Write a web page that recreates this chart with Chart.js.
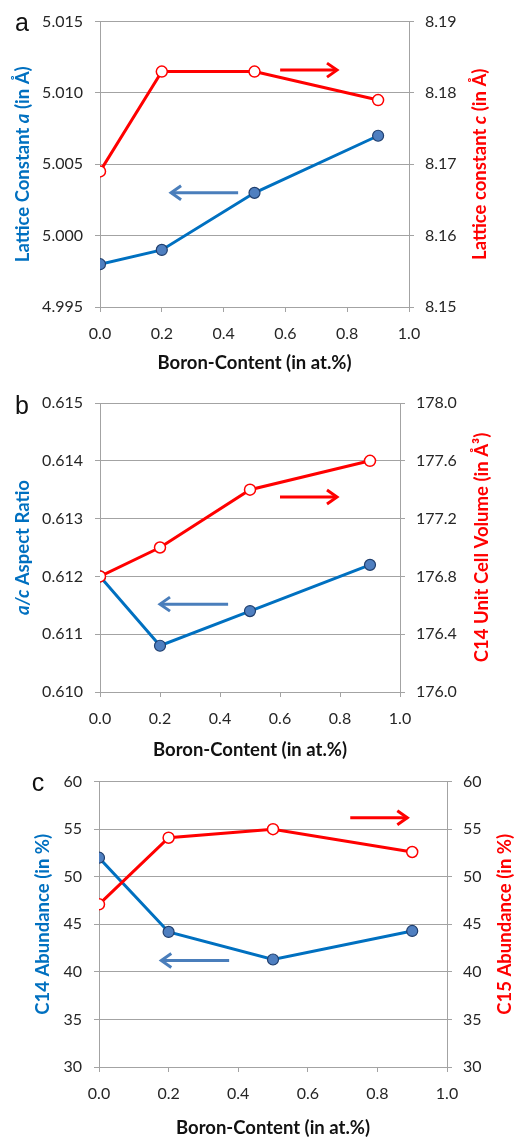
<!DOCTYPE html>
<html>
<head>
<meta charset="utf-8">
<script src="https://cdn.jsdelivr.net/npm/chart.js@4.4.1/dist/chart.umd.min.js"></script>
<style>
  body { margin: 0; background: #fff; }
  #wrap { position: relative; width: 515px; height: 1137px; }
  canvas { position: absolute; left: 0; }
</style>
</head>
<body>
<div id="wrap">
  <canvas id="panelA" width="515" height="380" style="top:0"></canvas>
  <canvas id="panelB" width="515" height="380" style="top:380px"></canvas>
  <canvas id="panelC" width="515" height="377" style="top:760px"></canvas>
</div>
<script>
// boron content (at.%) shared by all panels
const boron = [0, 0.2, 0.5, 0.9];

// panel a
const latticeA = [4.998, 4.999, 5.003, 5.007];
const latticeC = [8.169, 8.183, 8.183, 8.179];
// panel b
const aspectRatio = [0.612, 0.6108, 0.6114, 0.6122];
const cellVolume = [176.8, 177.0, 177.4, 177.6];
// panel c
const c14Abundance = [52.0, 44.2, 41.3, 44.3];
const c15Abundance = [47.1, 54.1, 55.0, 52.6];

const BLUE = '#0070c0';
const RED = '#ff0000';
const GRID = '#a3a3a3';
const TICK_COLOR = '#262626';

Chart.defaults.font.family = 'Lato, "Open Sans", sans-serif';

function pts(ys) {
  return boron.map((x, i) => ({ x, y: ys[i] }));
}

// draws a string made of styled pieces, centred on (cx, cy)
function drawRich(ctx, segs, cx, cy, rot, size, color) {
  ctx.save();
  ctx.translate(cx, cy);
  ctx.rotate(rot);
  ctx.fillStyle = color;
  ctx.textBaseline = 'middle';
  ctx.textAlign = 'left';
  const fontOf = s => `${s.italic ? 'italic ' : ''}bold ${size}px Lato, sans-serif`;
  let total = 0;
  segs.forEach(s => { ctx.font = fontOf(s); total += ctx.measureText(s.t).width; });
  let x = -total / 2;
  segs.forEach(s => {
    ctx.font = fontOf(s);
    ctx.fillText(s.t, x, 0);
    x += ctx.measureText(s.t).width;
  });
  ctx.restore();
}

const annotate = {
  id: 'annotate',
  afterDatasetsDraw(chart, args, opts) {
    const { ctx, scales } = chart;
    opts.arrows.forEach(a => {
      const ys = scales[a.axis];
      const x1 = scales.x.getPixelForValue(a.from);
      const x2 = scales.x.getPixelForValue(a.to);
      const y = ys.getPixelForValue(a.y);
      const dir = x2 > x1 ? 1 : -1;
      ctx.save();
      ctx.strokeStyle = a.color;
      ctx.lineWidth = 3;
      ctx.lineCap = 'butt';
      ctx.beginPath();
      ctx.moveTo(x1, y);
      ctx.lineTo(x2, y);
      ctx.stroke();
      ctx.lineJoin = 'miter';
      ctx.beginPath();
      ctx.moveTo(x2 - dir * 10, y - 7);
      ctx.lineTo(x2, y);
      ctx.lineTo(x2 - dir * 10, y + 7);
      ctx.stroke();
      ctx.restore();
    });
  },
  afterDraw(chart, args, opts) {
    const { ctx, chartArea: ca } = chart;
    const midY = (ca.top + ca.bottom) / 2;
    const midX = (ca.left + ca.right) / 2;
    drawRich(ctx, opts.left, opts.leftX, midY, -Math.PI / 2, opts.size, BLUE);
    drawRich(ctx, opts.right, opts.rightX, midY, -Math.PI / 2, opts.size, RED);
    drawRich(ctx, [{ t: 'Boron-Content (in at.%)' }], midX, opts.bottomY, 0, opts.xSize, '#111');
    ctx.save();
    ctx.font = '25px "Liberation Sans", Arial, sans-serif';
    ctx.fillStyle = '#111';
    ctx.textAlign = 'center';
    ctx.textBaseline = 'middle';
    ctx.fillText(opts.letter, opts.letterX, opts.letterY);
    ctx.restore();
  }
};

function makePanel(id, p) {
  const tickFont = { size: 16 };
  new Chart(document.getElementById(id), {
    type: 'line',
    data: {
      datasets: [
        {
          data: pts(p.left), yAxisID: 'y', order: 1,
          borderColor: BLUE, borderWidth: 3,
          pointBackgroundColor: '#4f7fc0', pointBorderColor: '#203f6e',
          pointBorderWidth: 1.2, pointRadius: 5.5
        },
        {
          data: pts(p.right), yAxisID: 'y1', order: 0,
          borderColor: RED, borderWidth: 3,
          pointBackgroundColor: '#ffffff', pointBorderColor: RED,
          pointBorderWidth: 1.5, pointRadius: 5.5
        }
      ]
    },
    options: {
      responsive: false,
      animation: false,
      devicePixelRatio: 1,
      layout: { padding: { top: p.top, left: 0, right: 0, bottom: 0 } },
      plugins: {
        legend: { display: false },
        tooltip: { enabled: false },
        annotate: p.notes
      },
      scales: {
        x: {
          type: 'linear', min: 0, max: 1,
          afterFit: s => { s.height = p.xHeight; },
          grid: { drawOnChartArea: false, drawTicks: true, tickLength: 5, color: GRID },
          border: { display: true, color: GRID, width: 1 },
          ticks: { stepSize: 0.2, padding: 12, color: TICK_COLOR, font: tickFont,
                   callback: v => v.toFixed(1) }
        },
        y: {
          position: 'left', min: p.yMin, max: p.yMax,
          afterFit: s => { s.width = p.yWidth; },
          grid: { color: GRID, tickLength: 5, lineWidth: 1 },
          border: { display: true, color: GRID, width: 1 },
          ticks: { stepSize: p.yStep, padding: 12, color: TICK_COLOR, font: tickFont,
                   callback: v => v.toFixed(p.yDec) }
        },
        y1: {
          position: 'right', min: p.y1Min, max: p.y1Max,
          afterFit: s => { s.width = p.y1Width; },
          grid: { drawOnChartArea: false, color: GRID, tickLength: 5 },
          border: { display: true, color: GRID, width: 1 },
          ticks: { stepSize: p.y1Step, padding: 11, color: TICK_COLOR, font: tickFont,
                   callback: v => v.toFixed(p.y1Dec) }
        }
      }
    },
    plugins: [annotate]
  });
}

makePanel('panelA', {
  left: latticeA, right: latticeC,
  top: 19, xHeight: 73, yWidth: 100, y1Width: 106,
  yMin: 4.995, yMax: 5.015, yStep: 0.005, yDec: 3,
  y1Min: 8.15, y1Max: 8.19, y1Step: 0.01, y1Dec: 2,
  notes: {
    letter: 'a', letterX: 22, letterY: 24,
    size: 18.5, xSize: 18.5, leftX: 23, rightX: 480, bottomY: 363,
    left: [{ t: 'Lattice Constant ' }, { t: 'a', italic: true }, { t: ' (in Å)' }],
    right: [{ t: 'Lattice constant ' }, { t: 'c', italic: true }, { t: ' (in Å)' }],
    arrows: [
      { axis: 'y1', from: 0.583, to: 0.767, y: 8.1832, color: RED },
      { axis: 'y', from: 0.447, to: 0.23, y: 5.003, color: '#4a7ebb' }
    ]
  }
});

makePanel('panelB', {
  left: aspectRatio, right: cellVolume,
  top: 23, xHeight: 68, yWidth: 100, y1Width: 115,
  yMin: 0.610, yMax: 0.615, yStep: 0.001, yDec: 3,
  y1Min: 176.0, y1Max: 178.0, y1Step: 0.4, y1Dec: 1,
  notes: {
    letter: 'b', letterX: 22, letterY: 27,
    size: 18.5, xSize: 18.5, leftX: 23, rightX: 482, bottomY: 370,
    left: [{ t: 'a/c', italic: true }, { t: ' Aspect Ratio' }],
    right: [{ t: 'C14 Unit Cell Volume (in Å³)' }],
    arrows: [
      { axis: 'y1', from: 0.6, to: 0.79, y: 177.35, color: RED },
      { axis: 'y', from: 0.427, to: 0.2, y: 0.61152, color: '#4a7ebb' }
    ]
  }
});

makePanel('panelC', {
  left: c14Abundance, right: c15Abundance,
  top: 20, xHeight: 70, yWidth: 99, y1Width: 68,
  yMin: 30, yMax: 60, yStep: 5, yDec: 0,
  y1Min: 30, y1Max: 60, y1Step: 5, y1Dec: 0,
  notes: {
    letter: 'c', letterX: 38, letterY: 24,
    size: 18.5, xSize: 18.5, leftX: 43, rightX: 505, bottomY: 368,
    left: [{ t: 'C14 Abundance (in %)' }],
    right: [{ t: 'C15 Abundance (in %)' }],
    arrows: [
      { axis: 'y1', from: 0.722, to: 0.886, y: 56.2, color: RED },
      { axis: 'y', from: 0.374, to: 0.179, y: 41.2, color: '#4a7ebb' }
    ]
  }
});
</script>
</body>
</html>
